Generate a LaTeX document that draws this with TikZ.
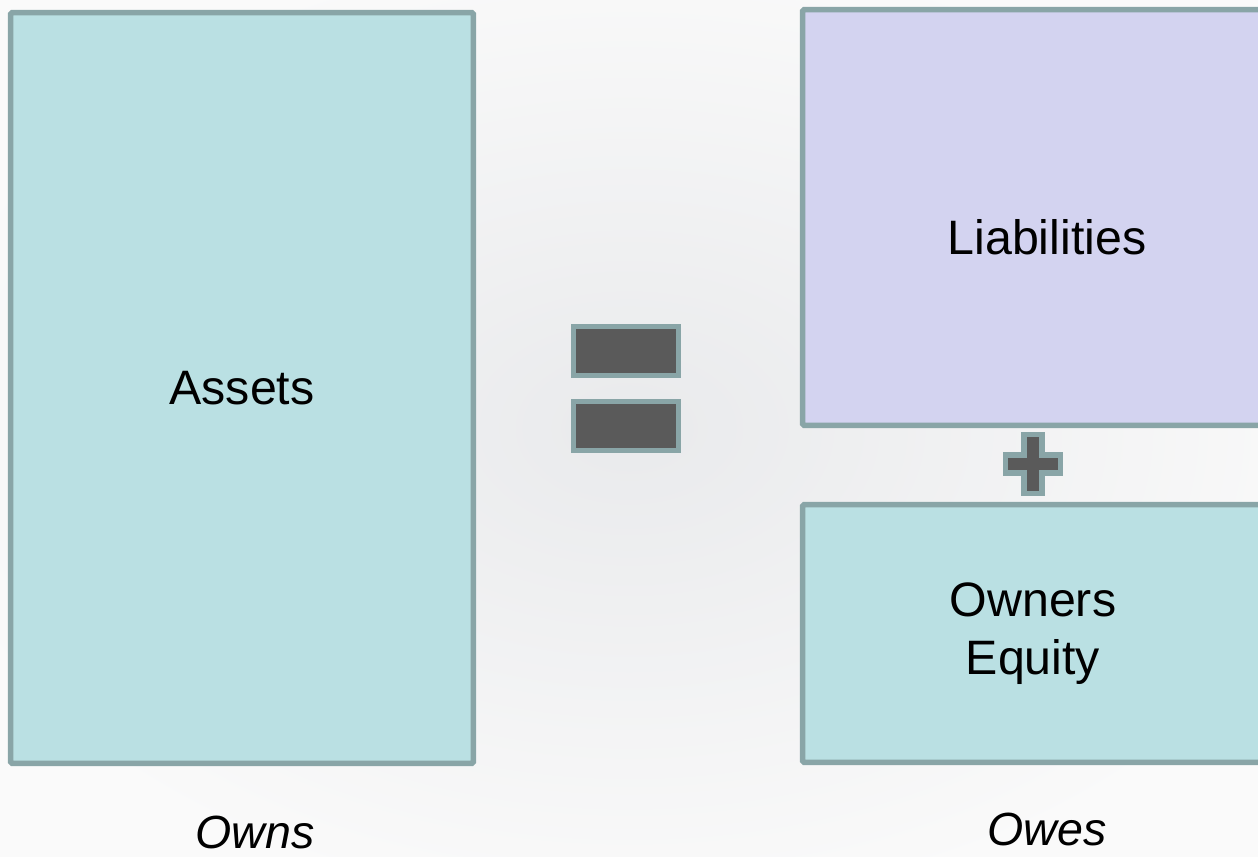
\documentclass[tikz,border=0pt]{standalone}
\usepackage{fontspec}
\setmainfont{Liberation Sans}
\usetikzlibrary{positioning}
\definecolor{acTeal}   {RGB}{186,224,227}
\definecolor{acLav}    {RGB}{211,211,240}
\definecolor{acEdge}   {RGB}{137,165,167}
\definecolor{acSign}   {RGB}{ 90, 90, 90}
\definecolor{acBgIn}   {RGB}{233,234,236}
\definecolor{acBgOut}  {RGB}{250,250,250}

\begin{document}
\begin{tikzpicture}[
  x=0.02cm, y=-0.02cm,
  every node/.style={font=\fontsize{27.5}{33}\selectfont},
  acct/.style={draw=acEdge,line width=0.11cm,rounded corners=1pt,
               inner sep=0pt,align=center},
  sign/.style={draw=acEdge,fill=acSign,line width=0.11cm},
  note/.style={font=\fontsize{26.5}{31}\selectfont\itshape}
]
% page and background
\useasboundingbox (0,0) rectangle (1258,856);
\clip (0,0) rectangle (1258,856);
\shade[inner color=acBgIn,outer color=acBgOut] (-100,-60) rectangle (1358,916);

% left side of the equation
\node[acct,fill=acTeal,minimum width=9.26cm,minimum height=15.02cm]
  (A) at (242,388) {Assets};

% right side of the equation
\node[acct,fill=acLav,minimum width=9.78cm,minimum height=8.32cm]
  (L) at (1047,217.5) {};
\node (Ltext) at (1047,237) {Liabilities};
\node[acct,fill=acTeal,minimum width=9.22cm,minimum height=5.16cm]
  (E) at (1033,633.5) {Owners\\Equity};

% equals sign
\node[sign,minimum width=2.1cm,minimum height=0.98cm,inner sep=0pt]
  (eqTop) at (626,351) {};
\node[sign,minimum width=2.1cm,minimum height=0.98cm,inner sep=0pt]
  (eqBot) at (626,426) {};

% plus sign
\draw[sign,shift={(1033,464)}]
  (-9,-29.5) -- (9,-29.5) -- (9,-9) -- (27.5,-9) -- (27.5,9) -- (9,9)
  -- (9,29.5) -- (-9,29.5) -- (-9,9) -- (-27.5,9) -- (-27.5,-9)
  -- (-9,-9) -- cycle;

% captions
\node[note] (owns) at (255,832) {Owns};
\node[note] (owes) at (1047,829) {Owes};
\end{tikzpicture}
\end{document}
